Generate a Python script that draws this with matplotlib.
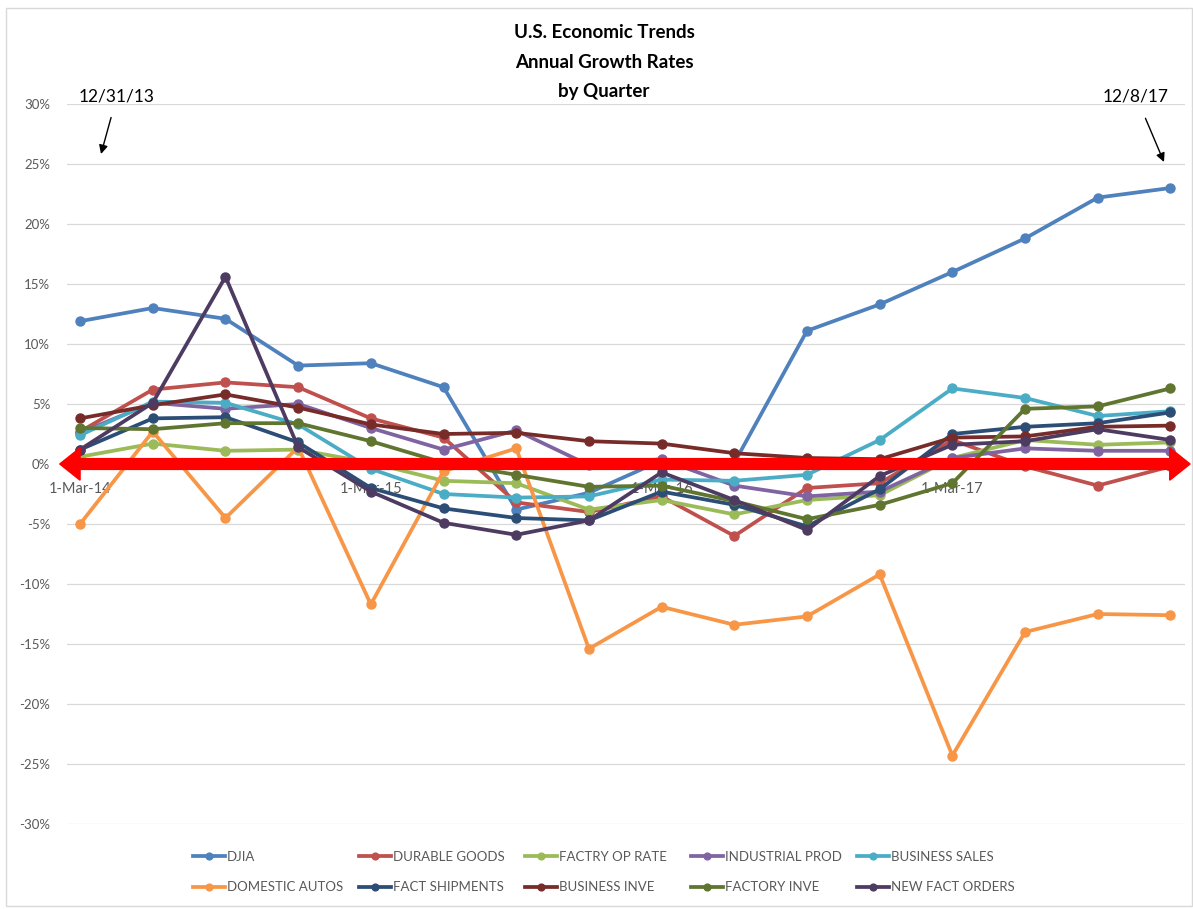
import matplotlib
matplotlib.use('Agg')
import matplotlib.pyplot as plt
from matplotlib.patches import FancyArrow, Rectangle
from matplotlib.ticker import FuncFormatter
import numpy as np

plt.rcParams['font.family'] = ['Lato', 'DejaVu Sans']

quarters = ['1-Mar-14', '1-Jun-14', '1-Sep-14', '1-Dec-14',
            '1-Mar-15', '1-Jun-15', '1-Sep-15', '1-Dec-15',
            '1-Mar-16', '1-Jun-16', '1-Sep-16', '1-Dec-16',
            '1-Mar-17', '1-Jun-17', '1-Sep-17', '1-Dec-17']

djia = [11.9, 13.0, 12.1, 8.2, 8.4, 6.4, -3.8, -2.4, 0.3, 0.1, 11.1, 13.3, 16.0, 18.8, 22.2, 23.0]
durable_goods = [2.7, 6.2, 6.8, 6.4, 3.8, 2.2, -3.2, -4.0, -2.7, -6.0, -2.0, -1.6, 2.0, -0.2, -1.8, -0.2]
factry_op_rate = [0.6, 1.7, 1.1, 1.2, 0.1, -1.4, -1.6, -3.8, -3.0, -4.2, -3.0, -2.6, 0.5, 2.0, 1.6, 1.8]
industrial_prod = [2.6, 5.1, 4.6, 5.0, 3.0, 1.2, 2.8, -0.1, 0.4, -1.8, -2.7, -2.3, 0.5, 1.3, 1.1, 1.1]
business_sales = [2.4, 5.2, 5.1, 3.3, -0.4, -2.5, -2.8, -2.7, -1.3, -1.4, -0.9, 2.0, 6.3, 5.5, 4.0, 4.4]
domestic_autos = [-5.0, 2.7, -4.5, 1.4, -11.7, -0.6, 1.3, -15.4, -11.9, -13.4, -12.7, -9.2, -24.3, -14.0, -12.5, -12.6]
fact_shipments = [1.2, 3.8, 3.9, 1.8, -2.0, -3.7, -4.5, -4.7, -2.3, -3.4, -5.2, -2.1, 2.5, 3.1, 3.4, 4.3]
business_inve = [3.8, 4.9, 5.8, 4.7, 3.3, 2.5, 2.6, 1.9, 1.7, 0.9, 0.5, 0.4, 2.2, 2.3, 3.1, 3.2]
factory_inve = [3.0, 2.9, 3.4, 3.4, 1.9, 0.1, -0.9, -1.9, -1.8, -3.1, -4.6, -3.4, -1.6, 4.6, 4.8, 6.3]
new_fact_orders = [1.2, 5.1, 15.6, 1.4, -2.3, -4.9, -5.9, -4.7, -0.7, -3.0, -5.5, -1.0, 1.6, 1.9, 2.9, 2.0]

series_names = ['DJIA', 'DURABLE GOODS', 'FACTRY OP RATE', 'INDUSTRIAL PROD', 'BUSINESS SALES',
                'DOMESTIC AUTOS', 'FACT SHIPMENTS', 'BUSINESS INVE', 'FACTORY INVE', 'NEW FACT ORDERS']
series_values = [djia, durable_goods, factry_op_rate, industrial_prod, business_sales,
                 domestic_autos, fact_shipments, business_inve, factory_inve, new_fact_orders]
colors = ['#4F81BD', '#C0504D', '#9BBB59', '#8064A2', '#4BACC6',
          '#F79646', '#2C4D75', '#772C2A', '#5F7530', '#4D3B62']

W, H = 1193, 909
fig = plt.figure(figsize=(W / 100, H / 100), dpi=100)
ax = fig.add_axes([67 / W, 1 - 824 / H, 1118 / W, 720 / H])

x = np.arange(len(quarters))
handles = []
for name, vals, c in zip(series_names, series_values, colors):
    h, = ax.plot(x, vals, color=c, lw=2.7, marker='o', markersize=6.5, label=name,
                 solid_joinstyle='round', clip_on=False)
    handles.append(h)

ax.set_ylim(-30, 30)
ax.set_yticks(np.arange(-30, 31, 5))
ax.yaxis.set_major_formatter(FuncFormatter(lambda v, p: f'{v:.0f}%'))
ax.set_xlim(-0.18, 15.2)
ax.set_xticks(x[::4])
ax.set_xticklabels(quarters[::4])
ax.grid(axis='y', color='#D9D9D9', lw=0.9)
ax.tick_params(length=0, labelcolor='#595959')
ax.tick_params(axis='y', pad=12, labelsize=9.5)
ax.tick_params(axis='x', pad=13, labelsize=10.5)
for s in ['left', 'right', 'top']:
    ax.spines[s].set_visible(False)
ax.spines['bottom'].set_position(('data', 0))
ax.spines['bottom'].set_color('none')

# big red double-headed arrow along zero
ax.add_patch(FancyArrow(7.5, 0, 7.77, 0, width=0.9, head_width=2.7, head_length=0.28,
                        length_includes_head=True, color='#FF0000', clip_on=False, zorder=5))
ax.add_patch(FancyArrow(7.5, 0, -7.78, 0, width=0.9, head_width=2.7, head_length=0.28,
                        length_includes_head=True, color='#FF0000', clip_on=False, zorder=5))

# title
fig.text(604 / W, 1 - 62 / H, 'U.S. Economic Trends\nAnnual Growth Rates\nby Quarter',
         ha='center', va='center', fontsize=13.5, fontweight='bold', linespacing=1.88)

# date annotations
ax.annotate('12/31/13', xy=(101, H - 154), xycoords='figure pixels',
            xytext=(117, H - 96), textcoords='figure pixels', ha='center', va='center',
            fontsize=12.5,
            arrowprops=dict(arrowstyle='-|>', color='black', lw=1, mutation_scale=13,
                            shrinkA=8, shrinkB=0))
ax.annotate('12/8/17', xy=(1164, H - 162), xycoords='figure pixels',
            xytext=(1136, H - 96), textcoords='figure pixels', ha='center', va='center',
            fontsize=12.5,
            arrowprops=dict(arrowstyle='-|>', color='black', lw=1, mutation_scale=13,
                            shrinkA=9, shrinkB=0))

# legend: 5 columns of 2 entries, evenly spaced like Excel
col_x = [193, 359, 525, 691, 857]
for k, cx in enumerate(col_x):
    idx = [k, k + 5]
    leg = fig.legend([handles[i] for i in idx], [series_names[i] for i in idx],
                     loc='upper left', bbox_to_anchor=(cx / W, 1 - 851 / H),
                     frameon=False, fontsize=9.5, handlelength=2.4, handletextpad=0.15,
                     labelspacing=1.4, markerscale=0.75, borderaxespad=0, borderpad=0)
    for t in leg.get_texts():
        t.set_color('#595959')

# chart border
fig.add_artist(Rectangle((6 / W, 1 - 906 / H), 1186 / W, 898 / H, transform=fig.transFigure,
                         fill=False, edgecolor='#D9D9D9', lw=1))

plt.savefig('out.png', dpi=100)
